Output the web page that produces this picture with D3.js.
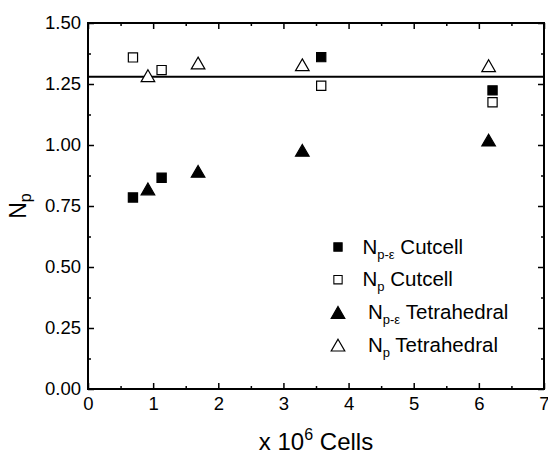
<!DOCTYPE html>
<html>
<head>
<meta charset="utf-8">
<script src="https://cdn.jsdelivr.net/npm/d3@7"></script>
<style>
  body { margin: 0; background: #fff; }
  svg { font-family: "Liberation Sans", Arial, sans-serif; }
</style>
</head>
<body>
<svg id="chart"></svg>
<script>
// values
const cutX = [0.69, 1.13, 3.58, 6.21];
const cutNpe = [0.785, 0.866, 1.36, 1.224];   // N p-eps, Cutcell
const cutNp = [1.359, 1.307, 1.243, 1.175];   // N p, Cutcell
const tetX = [0.92, 1.69, 3.29, 6.15];
const tetNpe = [0.82, 0.892, 0.978, 1.02];    // N p-eps, Tetrahedral
const tetNp = [1.284, 1.336, 1.329, 1.325];   // N p, Tetrahedral
const refNp = 1.28;

const xTicks = [0, 1, 2, 3, 4, 5, 6, 7];
const xMinor = [0.5, 1.5, 2.5, 3.5, 4.5, 5.5, 6.5];
const yTicks = [0, 0.25, 0.5, 0.75, 1.0, 1.25, 1.5];
const yMinor = [0.125, 0.375, 0.625, 0.875, 1.125, 1.375];

const legendNames = [
  { sub: "p-\u03b5", rest: " Cutcell", shape: "square", filled: true },
  { sub: "p", rest: " Cutcell", shape: "square", filled: false },
  { sub: "p-\u03b5", rest: " Tetrahedral", shape: "triangle", filled: true },
  { sub: "p", rest: " Tetrahedral", shape: "triangle", filled: false }
];

const width = 548, height = 456;
const margin = { left: 88, right: 4, top: 23, bottom: 67 };
const w = width - margin.left - margin.right;
const h = height - margin.top - margin.bottom;

const svg = d3.select("#chart").attr("width", width).attr("height", height);
const g = svg.append("g").attr("transform", `translate(${margin.left},${margin.top})`);

const x = d3.scaleLinear().domain([0, 7]).range([0, w]);
const y = d3.scaleLinear().domain([0, 1.5]).range([h, 0]);

// axes, ticks pointing inward on all sides
function styleAxis(sel) {
  sel.select(".domain").remove();
  sel.selectAll(".tick line").attr("stroke", "#000").attr("stroke-width", 1.5);
  sel.selectAll("text").attr("fill", "#000").style("font-size", "18.5px");
}

g.append("g").attr("transform", `translate(0,${h})`)
  .call(d3.axisBottom(x).tickValues(xTicks).tickSize(-6).tickPadding(8).tickFormat(d3.format("d")))
  .call(styleAxis);
g.append("g").attr("transform", `translate(0,${h})`)
  .call(d3.axisBottom(x).tickValues(xMinor).tickSize(-3).tickFormat(""))
  .call(styleAxis);
g.append("g")
  .call(d3.axisTop(x).tickValues(xTicks).tickSize(-6).tickFormat(""))
  .call(styleAxis);
g.append("g")
  .call(d3.axisTop(x).tickValues(xMinor).tickSize(-3).tickFormat(""))
  .call(styleAxis);

g.append("g")
  .call(d3.axisLeft(y).tickValues(yTicks).tickSize(-6).tickPadding(7).tickFormat(d3.format(".2f")))
  .call(styleAxis);
g.append("g")
  .call(d3.axisLeft(y).tickValues(yMinor).tickSize(-3).tickFormat(""))
  .call(styleAxis);
g.append("g").attr("transform", `translate(${w},0)`)
  .call(d3.axisRight(y).tickValues(yTicks).tickSize(-6).tickFormat(""))
  .call(styleAxis);
g.append("g").attr("transform", `translate(${w},0)`)
  .call(d3.axisRight(y).tickValues(yMinor).tickSize(-3).tickFormat(""))
  .call(styleAxis);

// frame
g.append("rect")
  .attr("width", w).attr("height", h)
  .attr("fill", "none").attr("stroke", "#000").attr("stroke-width", 2);

// reference line
g.append("line")
  .attr("x1", 0).attr("x2", w)
  .attr("y1", y(refNp)).attr("y2", y(refNp))
  .attr("stroke", "#000").attr("stroke-width", 2);

// markers
const squarePath = d3.symbol().type(d3.symbolSquare).size(85)();
const triSize = 80;
const trianglePath = d3.symbol().type(d3.symbolTriangle).size(triSize)();
const triShift = Math.sqrt(triSize / (3 * Math.sqrt(3))) / 2; // centre the triangle box

function drawMarkers(xs, ys, shape, filled) {
  const path = shape === "square" ? squarePath : trianglePath;
  const dy = shape === "square" ? 0 : triShift;
  g.append("g").selectAll("path")
    .data(xs.map((d, i) => [d, ys[i]]))
    .join("path")
    .attr("d", path)
    .attr("transform", d => `translate(${x(d[0])},${y(d[1]) + dy})`)
    .attr("fill", filled ? "#000" : "#fff")
    .attr("stroke", "#000")
    .attr("stroke-width", 1.2);
}

drawMarkers(cutX, cutNp, "square", false);
drawMarkers(tetX, tetNp, "triangle", false);
drawMarkers(cutX, cutNpe, "square", true);
drawMarkers(tetX, tetNpe, "triangle", true);

// legend
const legend = g.append("g").attr("transform", `translate(${338 - margin.left},${247 - margin.top})`);
legendNames.forEach((d, i) => {
  const row = legend.append("g").attr("transform", `translate(0,${i * 32.7})`);
  const path = d.shape === "square" ? squarePath : trianglePath;
  row.append("path")
    .attr("d", path)
    .attr("transform", `translate(0,${d.shape === "square" ? 0 : triShift}) scale(${d.shape === "square" ? 0.9 : 1})`)
    .attr("fill", d.filled ? "#000" : "#fff")
    .attr("stroke", "#000")
    .attr("stroke-width", 1.2);
  const t = row.append("text")
    .attr("x", d.shape === "square" ? 24.5 : 30)
    .attr("y", 6.5)
    .attr("fill", "#000")
    .style("font-size", "20.5px");
  t.append("tspan").text("N");
  t.append("tspan").attr("dy", 5).style("font-size", "13px").text(d.sub);
  t.append("tspan").attr("dy", -5).text(d.rest);
});

// axis titles
const xt = svg.append("text")
  .attr("x", margin.left + w / 2)
  .attr("y", 450)
  .attr("text-anchor", "middle")
  .attr("fill", "#000")
  .style("font-size", "24px");
xt.append("tspan").text("x 10");
xt.append("tspan").attr("dy", -10).style("font-size", "16px").text("6");
xt.append("tspan").attr("dy", 10).text(" Cells");

const yt = svg.append("text")
  .attr("transform", `translate(26,${margin.top + h / 2}) rotate(-90)`)
  .attr("text-anchor", "middle")
  .attr("fill", "#000")
  .style("font-size", "23px");
yt.append("tspan").text("N");
yt.append("tspan").attr("dy", 5).style("font-size", "16px").text("p");
</script>
</body>
</html>
